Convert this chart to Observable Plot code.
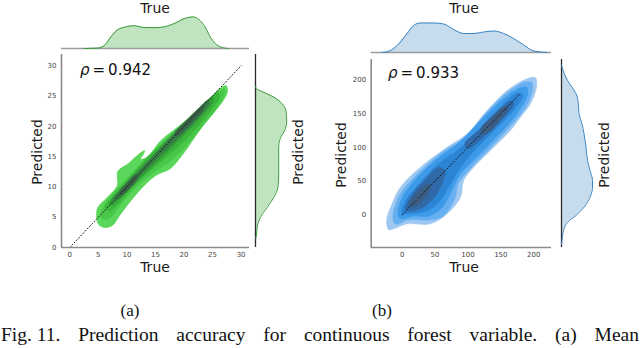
<!DOCTYPE html>
<html><head><meta charset="utf-8">
<script src="https://cdn.jsdelivr.net/npm/d3@7"></script>
<script src="https://cdn.jsdelivr.net/npm/@observablehq/plot@0.6"></script>
<style>
body{margin:0;background:#fff;}
#fig{position:relative;width:640px;height:348px;overflow:hidden;background:#fff;font-family:"DejaVu Sans",sans-serif;}
#fig svg{position:absolute;overflow:visible;background:transparent;}
.lab{position:absolute;font-size:14px;color:#1a1a1a;white-space:nowrap;transform:translate(-50%,-50%);line-height:1;}
.rot{transform:translate(-50%,-50%) rotate(-90deg);}
.rho{position:absolute;font-size:15px;color:#111;white-space:nowrap;line-height:1;}
.sub{position:absolute;font-family:"Liberation Serif",serif;font-size:17px;color:#111;transform:translate(-50%,-50%);line-height:1;}
.cap{position:absolute;left:1px;width:638px;top:324px;font-family:"Liberation Serif",serif;font-size:19.5px;color:#111;display:flex;justify-content:space-between;white-space:nowrap;line-height:22px;}
</style></head><body><div id="fig"></div>
<script>
// ---------- panel (a): green ----------
const xDomainA = [-1.45, 31.47];
const yDomainA = [0, 31.85];
const ticksA = [0, 5, 10, 15, 20, 25, 30];
const rhoA = "0.942";
const diagA = [[0, 0], [30, 30]];
const greenL1 = [[4.7,4.7],[4.9,6.6],[6.55,8.26],[8.3,10.2],[8.3,11.85],[8.4,12.6],[10.3,13.9],[11.8,15.2],[13.1,16.0],[12.85,15.3],[12.4,14.6],[13.55,14.9],[15.9,17.6],[18.8,19.8],[21.7,22.0],[24.3,24.4],[26.4,26.3],[27.4,26.7],[27.6,25.6],[26.7,24.0],[25.2,22.3],[22.9,19.6],[21.1,17.1],[19.4,14.9],[17.6,13.0],[15.3,12.0],[13.55,10.7],[11.2,8.3],[8.9,5.5],[7.4,3.6],[6.0,3.3],[5.1,3.75]];
const greenL2 = [[5.6,6.0],[6.5,7.7],[8.5,9.9],[11,12.3],[13.5,14.9],[16,17.1],[18.8,19.6],[21.6,21.9],[24.2,24.2],[26.3,25.9],[27.1,26.2],[27.0,25.0],[25.8,23.0],[23.5,20.3],[21.2,17.6],[19.2,15.6],[17.3,14.0],[15.0,12.6],[12.8,11.0],[10.5,8.9],[8.5,6.6],[7.2,5.0],[6.2,4.6],[5.5,5.0]];
const greenL3 = [[6.2,6.6],[8,8.9],[10.5,11.6],[13.5,14.7],[16.5,17.4],[19.5,20.2],[22.5,22.9],[25,25],[26,25.6],[26.2,24.8],[25,22.9],[23,20.6],[20.5,18.0],[18,15.8],[15.5,13.8],[13,11.8],[10.5,9.4],[8.5,7.2],[7,6.0]];
const greenL4 = [[7,7.4],[9,9.7],[12,12.7],[15,15.6],[18,18.5],[21,21.4],[23.5,23.7],[25,24.8],[25.2,24.2],[24,22.6],[21.5,20],[19,17.6],[16.5,15.2],[14,13.0],[11.5,10.7],[9,8.3],[7.5,7.0]];
const greenL5 = [[7.6,8.0],[10,10.5],[13,13.5],[16,16.5],[19,19.5],[22,22.4],[24.2,24.3],[24.4,23.7],[23,22.0],[20.5,19.5],[18,17.2],[15.5,14.9],[13,12.5],[10.5,10.0],[8.5,8.0]];
const greenL6a = [[18.5,19.0],[20.5,21.0],[22.5,22.8],[23.5,23.4],[23.2,22.5],[21.5,20.8],[19.5,18.9],[18.6,18.4]];
const greenL6b = [[8.8,9.3],[10,10.6],[11.5,12.0],[11.8,11.4],[10.8,10.1],[9.5,8.9],[8.8,8.7]];
const greenLevelColors = ["#5ad65a", "#48c848", "#3bb63b", "#339c39", "#367e45", "#3a6447"];
const trueDensityA = [[2.45,0],[4.9,0.001],[6.1,0.008],[7.2,0.029],[8.3,0.046],[9.8,0.054],[11.2,0.057],[13.0,0.0525],[14.8,0.052],[16.5,0.054],[18.3,0.0625],[20.1,0.075],[21.6,0.079],[22.6,0.0725],[23.7,0.054],[24.6,0.029],[25.5,0.0125],[26.4,0.004],[27.8,0]];
const predDensityA = [[1.5,0.001],[2.2,0.0025],[3.3,0.004],[5.0,0.0125],[6.6,0.029],[8.3,0.046],[9.9,0.056],[12.1,0.058],[14.3,0.058],[16.5,0.058],[18.2,0.063],[19.3,0.073],[20.9,0.078],[22.6,0.076],[23.7,0.067],[24.8,0.046],[25.6,0.021],[26.2,0.0025],[26.6,0]];
const densityDomainA = [0, 0.08];

// ---------- panel (b): blue ----------
const xDomainB = [-47, 227];
const yDomainB = [-48.4, 230];
const ticksB = [0, 50, 100, 150, 200];
const rhoB = "0.933";
const diagB = [[0, 0], [178, 178]];
const blueL1 = [[-20.4,-22.2],[-23.5,-12],[-22.8,-3.6],[-15.2,16.3],[-2.6,40.9],[27.8,70.5],[68.4,100.1],[98.8,120],[129.2,154.5],[159.6,184.1],[190,201.5],[202.6,203],[204.1,189],[195,164.4],[179.8,144.6],[164.6,124.9],[139.2,100.1],[108.8,70.5],[93.6,50.8],[88.6,26.1],[68.4,1.5],[43,-13.3],[7.6,-13.3],[-12.8,-20.7]];
const blueL2 = [[-12,-12],[-14,-2],[-10,15],[0,35],[25,62],[60,92],[95,114],[125,148],[155,177],[185,196],[197,196],[198,185],[190,163],[175,143],[158,124],[133,98],[103,68],[85,46],[80,24],[62,-2],[40,-8],[10,-7],[-8,-14]];
const blueL3 = [[-5,-4],[-6,6],[0,25],[20,52],[50,80],[85,106],[118,138],[150,168],[180,188],[190,188],[190,176],[180,158],[165,138],[140,112],[110,82],[88,60],[75,35],[60,10],[40,-2],[15,-2],[0,-6]];
const blueL4 = [[0,2],[5,20],[25,45],[55,75],[90,100],[120,130],[150,160],[175,180],[183,178],[175,162],[155,140],[130,115],[105,90],[85,65],[70,40],[55,18],[35,5],[15,2]];
const blueL5a = [[95,105],[120,128],[145,152],[165,168],[170,165],[160,150],[140,130],[120,112],[100,98]];
const blueL5b = [[5,8],[15,30],[35,52],[55,70],[65,65],[60,45],[48,25],[30,10],[12,5]];
const blueL6a = [[120,128],[138,146],[155,160],[160,156],[150,142],[135,125],[122,120]];
const blueL6b = [[10,14],[20,30],[32,42],[42,44],[40,32],[30,20],[18,12]];
const blueLevelColors = ["#9ec8f0", "#66b0f2", "#3c9ae8", "#2b84d4", "#3069a8", "#3b5d84"];
const trueDensityB = [[-30,0],[-22.8,0.00014],[-12.8,0.0008],[-2.6,0.0021],[7.6,0.0038],[17.6,0.0054],[27.8,0.0059],[48,0.0059],[63.2,0.0057],[78.4,0.0046],[93.6,0.0038],[108.8,0.0038],[124,0.0041],[139.2,0.0043],[154.4,0.0038],[169.6,0.0028],[184.8,0.0015],[200,0.0003],[220.4,0]];
const predDensityB = [[-44,0],[-38,0.0001],[-23.3,0.0004],[-11,0.0012],[-1,0.0029],[11.3,0.0045],[26.1,0.0057],[40.9,0.0062],[50.8,0.0062],[65.6,0.0057],[80.4,0.0052],[100.1,0.0049],[120,0.0045],[134.8,0.0041],[149.6,0.0035],[169.3,0.0033],[179.3,0.0029],[199,0.0012],[216.3,0.0002],[222,0]];
const densityDomainB = [0, 0.0064];

const axisLabels = {x: "True", y: "Predicted"};
const subLabels = ["(a)", "(b)"];
const captionWords = ["Prediction", "accuracy", "for", "continuous", "forest", "variable.", "(a)", "Mean"];
const captionHead = "Fig. 11.";

// ---------- drawing ----------
const fig = document.getElementById("fig");
const px = d => d[0], py = d => d[1];
const baseStyle = {fontFamily: "DejaVu Sans, sans-serif", fontSize: "7px", color: "#444", background: "transparent", overflow: "visible"};

function place(el, left, top) {
  el.style.position = "absolute";
  el.style.left = left + "px";
  el.style.top = top + "px";
  fig.appendChild(el);
}

function panel(p) {
  const polys = p.levels.map(([pts, ci]) =>
    Plot.line(pts, {x: px, y: py, fill: p.colors[ci], stroke: p.colors[ci], strokeWidth: 0.6, curve: "catmull-rom-closed"}));
  // main joint plot
  const main = Plot.plot({
    width: p.xr[1] - p.sx + 2, height: p.yr[0] - p.sy + 20,
    marginLeft: p.xr[0] - p.sx, marginRight: 2, marginTop: p.yr[1] - p.sy, marginBottom: 20,
    style: baseStyle,
    x: {domain: p.xDomain, ticks: p.ticks, tickSize: 0, tickPadding: 5, label: null},
    y: {domain: p.yDomain, ticks: p.ticks, tickSize: 0, tickPadding: 5, label: null},
    marks: [
      ...polys,
      Plot.line(p.diag, {x: px, y: py, stroke: "#1a1a1a", strokeWidth: 1, strokeDasharray: "1.1,2.1"}),
      Plot.ruleX([p.xDomain[0]], {stroke: "#8a8a8a", strokeWidth: 1.6}),
      Plot.ruleY([p.yDomain[0]], {stroke: "#8a8a8a", strokeWidth: 1.6})
    ]
  });
  place(main, p.sx, p.sy);
  // top marginal
  const topH = 32;
  const top = Plot.plot({
    width: p.xr[1] - p.sx + 2, height: p.topBase - 10 + 1,
    marginLeft: p.xr[0] - p.sx, marginRight: 2, marginTop: p.topBase - 10 - topH, marginBottom: 1,
    style: baseStyle,
    x: {domain: p.xDomain, axis: null}, y: {domain: p.dDomain, axis: null},
    marks: [
      Plot.areaY(p.trueDensity, {x: px, y: py, fill: p.margFill, curve: "monotone-x"}),
      Plot.ruleY([0], {stroke: "#9a9a9a", strokeWidth: 1.4}),
      Plot.lineY(p.trueDensity, {x: px, y: py, stroke: p.margStroke, strokeWidth: 1, curve: "monotone-x"})
    ]
  });
  place(top, p.sx, 10);
  // right marginal
  const rx = p.rightSpine - 3;
  const right = Plot.plot({
    width: 3 + topH + 4, height: p.yr[0] - p.sy + 20,
    marginLeft: 3, marginRight: 4, marginTop: p.yr[1] - p.sy, marginBottom: 20,
    style: baseStyle,
    x: {domain: p.dDomain, axis: null}, y: {domain: p.yDomain, axis: null},
    marks: [
      Plot.areaX(p.predDensity, {y: px, x: py, fill: p.margFill, curve: "monotone-y"}),
      Plot.ruleX([0], {stroke: "#2a2a2a", strokeWidth: 1.3}),
      Plot.lineX(p.predDensity, {y: px, x: py, stroke: p.margStroke, strokeWidth: 1, curve: "monotone-y"})
    ]
  });
  place(right, rx, p.sy);
  // labels
  const lab = (txt, x, y, rot) => {
    const d = document.createElement("div");
    d.className = "lab" + (rot ? " rot" : "");
    d.textContent = txt;
    d.style.left = x + "px"; d.style.top = y + "px";
    fig.appendChild(d);
  };
  lab(axisLabels.x, p.cx, 8, false);
  lab(axisLabels.x, p.cx, 267, false);
  lab(axisLabels.y, p.leftLabX, p.cy, true);
  lab(axisLabels.y, p.rightLabX, p.cy, true);
  const r = document.createElement("div");
  r.className = "rho";
  r.innerHTML = '<span style="font-style:italic">ρ</span><span style="margin-left:3px">=</span><span style="margin-left:3px">' + p.rho + '</span>';
  r.style.left = p.rhoX + "px"; r.style.top = p.rhoY + "px";
  fig.appendChild(r);
  const s = document.createElement("div");
  s.className = "sub"; s.textContent = p.sub;
  s.style.left = p.subX + "px"; s.style.top = "310px";
  fig.appendChild(s);
}

panel({
  sx: 30, sy: 50, xr: [61, 249], yr: [247, 54], topBase: 48, rightSpine: 255,
  xDomain: xDomainA, yDomain: yDomainA, ticks: ticksA, diag: diagA, dDomain: densityDomainA,
  levels: [[greenL1,0],[greenL2,1],[greenL3,2],[greenL4,3],[greenL5,4],[greenL6a,5],[greenL6b,5]],
  colors: greenLevelColors, margFill: "#c0e3c0", margStroke: "#3a9a3a",
  trueDensity: trueDensityA, predDensity: predDensityA,
  cx: 155, cy: 152, leftLabX: 37, rightLabX: 298, rho: rhoA, rhoX: 80, rhoY: 63, sub: subLabels[0], subX: 130
});
panel({
  sx: 340, sy: 50, xr: [370.7, 551], yr: [247, 59], topBase: 52, rightSpine: 560.7,
  xDomain: xDomainB, yDomain: yDomainB, ticks: ticksB, diag: diagB, dDomain: densityDomainB,
  levels: [[blueL1,0],[blueL2,1],[blueL3,2],[blueL4,3],[blueL5a,4],[blueL5b,4],[blueL6a,5],[blueL6b,5]],
  colors: blueLevelColors, margFill: "#c6dcec", margStroke: "#3a85c4",
  trueDensity: trueDensityB, predDensity: predDensityB,
  cx: 464, cy: 155, leftLabX: 341, rightLabX: 604, rho: rhoB, rhoX: 388, rhoY: 66, sub: subLabels[1], subX: 382
});

const cap = document.createElement("div");
cap.className = "cap";
const head = document.createElement("span");
head.textContent = captionHead;
cap.appendChild(head);
for (const w of captionWords) { const sp = document.createElement("span"); sp.textContent = w; cap.appendChild(sp); }
fig.appendChild(cap);
</script>
</body></html>
